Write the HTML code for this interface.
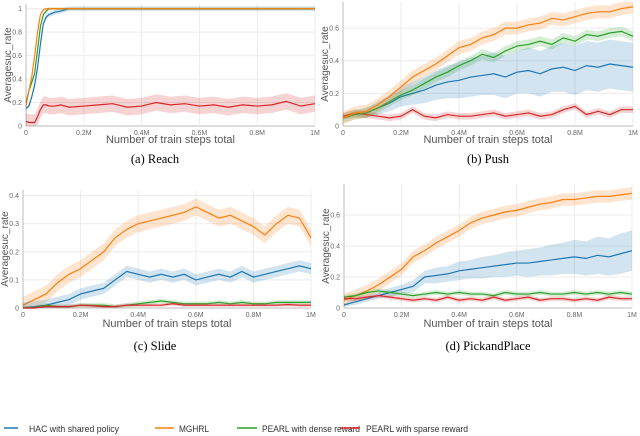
<!DOCTYPE html>
<html><head><meta charset="utf-8"><style>
body{margin:0;background:#fff;width:640px;height:436px;overflow:hidden}
svg{display:block}
</style></head><body>
<svg id="chart" width="640" height="436" xmlns="http://www.w3.org/2000/svg" font-family="Liberation Sans, sans-serif">
<g id="plots"></g>
<g font-size="9.5" fill="#333">
<line x1="4" y1="428" x2="18" y2="428" stroke="#1f77b4" stroke-width="1.5"/><text x="29" y="432" textLength="90" lengthAdjust="spacingAndGlyphs">HAC with shared policy</text>
<line x1="155" y1="428" x2="174" y2="428" stroke="#ff7f0e" stroke-width="1.5"/><text x="179" y="432" textLength="30" lengthAdjust="spacingAndGlyphs">MGHRL</text>
<line x1="237" y1="428" x2="257" y2="428" stroke="#2ca02c" stroke-width="1.5"/><text x="262" y="432" textLength="98" lengthAdjust="spacingAndGlyphs">PEARL with dense reward</text>
<line x1="340" y1="428" x2="360" y2="428" stroke="#d62728" stroke-width="1.5"/><text x="366" y="432" textLength="102" lengthAdjust="spacingAndGlyphs">PEARL with sparse reward</text>
</g>
</svg>
<script>
const xReach=[0,.01,.02,.03,.04,.05,.06,.07,.08,.1,.12,.15,.2,.25,.3,.35,.4,.45,.5,.55,.6,.65,.7,.75,.8,.85,.9,.95,1];
const reachOrange=[.17,.3,.42,.6,.8,.95,.99,1,1,1,1,1,1,1,1,1,1,1,1,1,1,1,1,1,1,1,1,1,1];
const reachGreen=[.2,.3,.37,.45,.65,.85,.95,.98,1,1,1,1,1,1,1,1,1,1,1,1,1,1,1,1,1,1,1,1,1];
const reachBlue=[.15,.17,.25,.35,.5,.7,.87,.93,.95,.97,.98,1,1,1,1,1,1,1,1,1,1,1,1,1,1,1,1,1,1];
const reachRed=[.04,.03,.03,.03,.08,.14,.18,.18,.17,.17,.18,.16,.17,.18,.19,.16,.17,.2,.18,.19,.17,.18,.16,.18,.17,.18,.21,.17,.19];
const xStd=[0,.04,.08,.12,.16,.2,.24,.28,.32,.36,.4,.44,.48,.52,.56,.6,.64,.68,.72,.76,.8,.84,.88,.92,.96,1];
const pushOrange=[.05,.08,.09,.13,.18,.24,.3,.34,.38,.43,.48,.5,.54,.56,.6,.6,.62,.63,.66,.65,.67,.69,.7,.7,.72,.73];
const pushGreen=[.05,.07,.08,.11,.15,.19,.22,.26,.3,.33,.37,.4,.44,.42,.46,.49,.5,.52,.5,.54,.52,.56,.55,.57,.58,.55];
const pushBlue=[.05,.07,.08,.11,.14,.18,.2,.22,.25,.27,.28,.3,.31,.32,.3,.33,.34,.32,.35,.36,.34,.37,.36,.38,.37,.36];
const pushBlueBand=[.01,.02,.03,.04,.05,.06,.07,.08,.09,.1,.11,.12,.12,.13,.13,.13,.14,.14,.14,.15,.15,.15,.15,.15,.15,.15];
const pushRed=[.06,.08,.07,.06,.05,.06,.1,.06,.05,.07,.06,.06,.07,.08,.06,.07,.08,.06,.07,.1,.12,.07,.09,.07,.1,.1];
const slideOrange=[.01,.03,.05,.09,.12,.14,.17,.2,.25,.28,.3,.31,.32,.33,.34,.36,.34,.32,.33,.31,.29,.26,.3,.33,.32,.25];
const slideBlue=[0,.005,.01,.02,.03,.05,.06,.07,.1,.13,.12,.11,.12,.11,.12,.1,.11,.12,.11,.13,.11,.12,.13,.14,.15,.14];
const slideGreen=[0,0,.01,.005,.005,.01,.01,.01,.005,.01,.015,.02,.025,.02,.015,.015,.015,.02,.015,.02,.015,.015,.02,.02,.02,.02];
const slideRed=[0,0,.005,.005,.005,.01,.008,.005,.005,.01,.01,.01,.01,.015,.01,.01,.01,.01,.01,.01,.01,.01,.01,.012,.01,.01];
const pnpOrange=[.05,.08,.11,.15,.2,.25,.33,.37,.42,.46,.5,.55,.58,.6,.62,.63,.65,.67,.68,.7,.7,.71,.72,.72,.73,.74];
const pnpBlue=[.02,.04,.06,.08,.1,.12,.14,.2,.21,.22,.24,.25,.26,.27,.28,.29,.29,.3,.31,.32,.33,.32,.34,.33,.35,.37];
const pnpBlueBand=[.01,.02,.02,.02,.03,.03,.04,.04,.05,.05,.06,.06,.07,.07,.08,.08,.09,.09,.1,.1,.11,.11,.12,.12,.13,.13];
const pnpGreen=[.07,.08,.1,.11,.1,.09,.08,.09,.1,.09,.1,.09,.09,.08,.1,.09,.09,.1,.09,.09,.1,.09,.1,.09,.1,.09];
const pnpRed=[.06,.06,.07,.08,.07,.06,.05,.06,.05,.07,.05,.06,.05,.07,.05,.06,.07,.05,.06,.06,.05,.06,.05,.07,.06,.06];
const xTicks=[0,.2,.4,.6,.8,1];
const xTickLabels=["0","0.2M","0.4M","0.6M","0.8M","1M"];
const C={b:"#1f77b4",o:"#ff7f0e",g:"#2ca02c",r:"#d62728"};
const NS="http://www.w3.org/2000/svg";
const root=document.getElementById('plots');
function el(t,a,p){const e=document.createElementNS(NS,t);for(const k in a)e.setAttribute(k,a[k]);(p||root).appendChild(e);return e;}
const panels=[
 {name:'reach',x0:26,x1:315,y0:126,yTop:4,ymax:1.04,yt:[0,.2,.4,.6,.8,1],ytl:["0","0.2","0.4","0.6","0.8","1"],cap:"(a)  Reach",cx:155,capY:163,xlY:143,x:xReach,
  s:[[reachRed,C.r,.07],[reachBlue,C.b,.02],[reachGreen,C.g,.01],[reachOrange,C.o,.01]]},
 {name:'push',x0:343,x1:633,y0:126,yTop:2,ymax:.76,yt:[0,.2,.4,.6],ytl:["0","0.2","0.4","0.6"],cap:"(b)  Push",cx:488,capY:163,xlY:143,x:xStd,
  s:[[pushBlue,C.b,pushBlueBand],[pushRed,C.r,.02],[pushGreen,C.g,.03],[pushOrange,C.o,.04]]},
 {name:'slide',x0:23,x1:311,y0:308,yTop:190,ymax:.42,yt:[0,.1,.2,.3,.4],ytl:["0","0.1","0.2","0.3","0.4"],cap:"(c)  Slide",cx:155,capY:350,xlY:327,x:xStd,
  s:[[slideOrange,C.o,.03],[slideBlue,C.b,.02],[slideGreen,C.g,.008],[slideRed,C.r,.006]]},
 {name:'pickandplace',x0:344,x1:632,y0:308,yTop:184,ymax:.8,yt:[0,.2,.4,.6],ytl:["0","0.2","0.4","0.6"],cap:"(d)  PickandPlace",cx:488,capY:350,xlY:327,x:xStd,
  s:[[pnpOrange,C.o,.04],[pnpBlue,C.b,pnpBlueBand],[pnpGreen,C.g,.015],[pnpRed,C.r,.015]]}
];
panels.forEach(P=>{
 const g=el('g',{});
 
 
 const sx=v=>P.x0+v*(P.x1-P.x0);
 const sy=v=>P.y0-v/P.ymax*(P.y0-P.yTop);
 P.yt.forEach((t,i)=>{
  const gl=el('line',{x1:P.x0,x2:P.x1,y1:sy(t),y2:sy(t),stroke:i?'#ececec':'#bbb','stroke-width':1},g);
  
  
  const tl=el('text',{x:P.x0-4,y:sy(t)+2.5,'font-size':7,fill:'#666','text-anchor':'end'},g);tl.textContent=P.ytl[i];
  
  
 });
 xTicks.forEach((t,i)=>{
  const gl=el('line',{x1:sx(t),x2:sx(t),y1:P.yTop,y2:P.y0,stroke:i?'#ececec':'#bbb','stroke-width':1},g);
  
  
  const tl=el('text',{x:sx(t),y:P.y0+9,'font-size':7,fill:'#666','text-anchor':'middle'},g);tl.textContent=xTickLabels[i];
  
  
 });
 P.s.forEach(([vals,col,band])=>{
  const bw=i=>Array.isArray(band)?band[i]:band;
  let up=[],dn=[];
  vals.forEach((v,i)=>{up.push(sx(P.x[i])+','+sy(Math.min(P.ymax,v+bw(i))));dn.unshift(sx(P.x[i])+','+sy(Math.max(0,v-bw(i))));});
  const b=el('polygon',{points:up.concat(dn).join(' '),fill:col,'fill-opacity':.2,stroke:'none'},g);
  
  
  const l=el('polyline',{points:vals.map((v,i)=>sx(P.x[i])+','+sy(v)).join(' '),fill:'none',stroke:col,'stroke-width':1.2},g);
  
  
 });
 const yl=el('text',{transform:`translate(${P.x0-15},${(P.y0+P.yTop)/2}) rotate(-90)`,'font-size':10,fill:'#555','text-anchor':'middle'},g);yl.textContent='Averagesuc_rate';
 
 
 const xl=el('text',{x:(P.x0+P.x1)/2,y:P.xlY,'font-size':11,fill:'#555','text-anchor':'middle'},g);xl.textContent='Number of train steps total';
 
 
 const cp=el('text',{x:P.cx,y:P.capY,'font-size':12.5,fill:'#000','text-anchor':'middle','font-family':'Liberation Serif, serif'},g);cp.textContent=P.cap;
 
 
});
</script>
</body></html>
